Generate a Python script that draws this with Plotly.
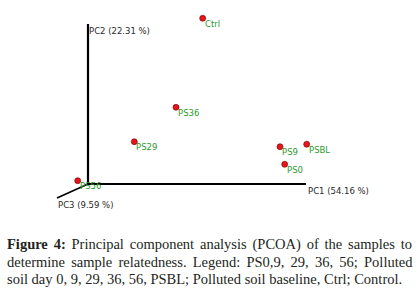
import plotly.graph_objects as go

# Sample labels and projected PCoA positions (plot units, origin at axis crossing)
samples = ["Ctrl", "PS36", "PS29", "PS9", "PSBL", "PS0", "PS56"]
pc1 = [114.7, 88.0, 46.3, 192.0, 218.7, 196.7, -10.3]
pc2 = [165.7, 76.7, 42.3, 37.3, 39.7, 19.7, 3.3]

axis_labels = ["PC1 (54.16 %)", "PC2 (22.31 %)", "PC3 (9.59 %)"]

caption_lines = [
    "<b>Figure 4:</b> Principal component analysis (PCOA) of the samples to",
    "determine sample relatedness. Legend: PS0,9, 29, 36, 56; Polluted",
    "soil day 0, 9, 29, 36, 56, PSBL; Polluted soil baseline, Ctrl; Control.",
]
# extra word spacing (px) to justify each caption line
caption_wordspacing = [2.2, 2.6, 0]

W, H = 418, 304
fig = go.Figure()
fig.add_trace(go.Scatter(
    x=pc1, y=pc2, mode="markers",
    marker=dict(size=6, color="#e8141a", line=dict(color="#6a0000", width=0.6)),
    hoverinfo="text", text=samples, showlegend=False,
))

# axes (PC1, PC2, PC3)
axis_len = dict(pc1=218, pc2=160, pc3=(-31, -14))
fig.add_shape(type="line", x0=0, y0=0, x1=axis_len["pc1"], y1=0,
              line=dict(color="black", width=2))
fig.add_shape(type="line", x0=0, y0=0, x1=0, y1=axis_len["pc2"],
              line=dict(color="black", width=2.2))
fig.add_shape(type="line", x0=0, y0=0, x1=axis_len["pc3"][0], y1=axis_len["pc3"][1],
              line=dict(color="black", width=1.6))

lab_font = dict(family="DejaVu Sans", size=8.5, color="#2a2a2a")
fig.add_annotation(x=axis_len["pc1"], y=0, text=axis_labels[0], showarrow=False,
                   xanchor="left", yanchor="middle", yshift=-6.5, font=lab_font)
fig.add_annotation(x=0, y=axis_len["pc2"], text=axis_labels[1], showarrow=False,
                   xanchor="left", yanchor="middle", yshift=-7, xshift=-1, font=lab_font)
fig.add_annotation(x=axis_len["pc3"][0], y=axis_len["pc3"][1], text=axis_labels[2], showarrow=False,
                   xanchor="left", yanchor="middle", yshift=-7, xshift=-1, font=lab_font)

pt_font = dict(family="DejaVu Sans", size=8.5, color="#2e9a2e")
for s, x, y in zip(samples, pc1, pc2):
    fig.add_annotation(x=x, y=y, text=s, showarrow=False, xanchor="left",
                       yanchor="middle", xshift=0, yshift=-5.5, font=pt_font)

cap_font = dict(family="Liberation Serif", size=14.5, color="#231f20")
for line, ws, yy in zip(caption_lines, caption_wordspacing, [244, 262, 279]):
    txt = f'<span style="word-spacing:{ws}px">{line}</span>' if ws else line
    fig.add_annotation(xref="paper", yref="paper", x=6 / W, y=1 - yy / H, text=txt,
                       showarrow=False, xanchor="left", yanchor="middle", font=cap_font,
                       borderpad=0)

fig.update_layout(
    width=W, height=H, margin=dict(l=0, r=0, t=0, b=0),
    paper_bgcolor="white", plot_bgcolor="white",
    xaxis=dict(range=[-88, 330], visible=False, fixedrange=True),
    yaxis=dict(range=[-120, 184], visible=False, fixedrange=True),
)
fig.write_html("out.html", config={"displayModeBar": False},
               post_script="document.body.style.margin='0px';")
